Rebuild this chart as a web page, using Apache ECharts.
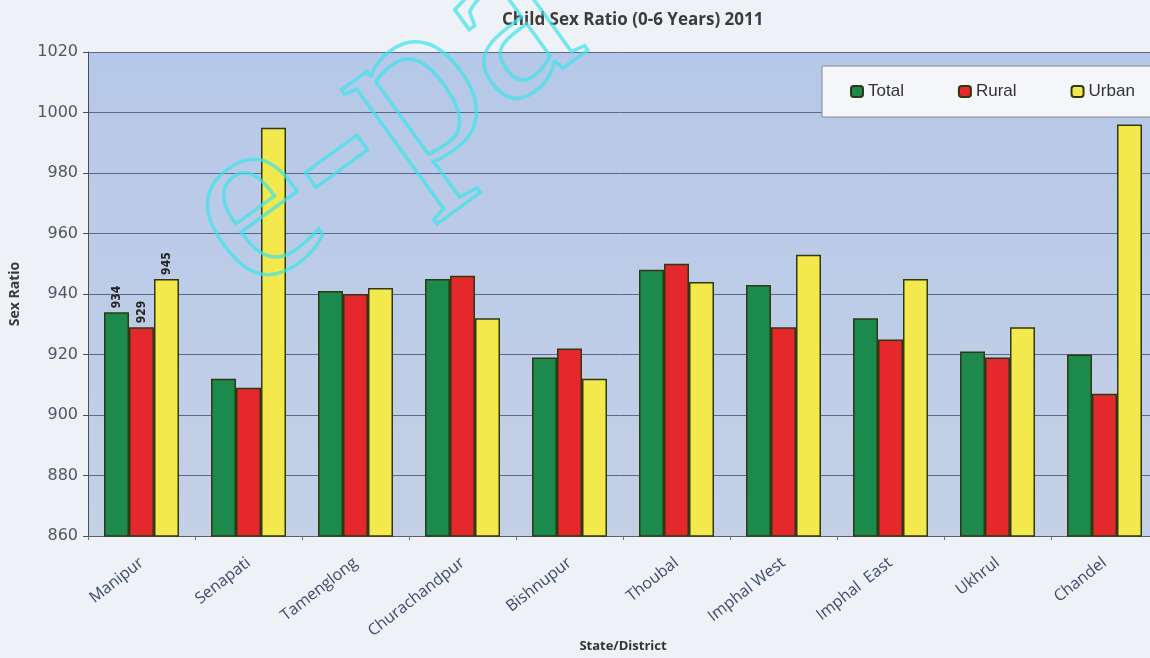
<!DOCTYPE html>
<html>
<head>
<meta charset="utf-8">
<script src="https://cdn.jsdelivr.net/npm/echarts@6/dist/echarts.min.js"></script>
<style>
  html, body { margin: 0; padding: 0; background: #eef1f5; }
  #chart { width: 1150px; height: 658px; }
</style>
</head>
<body>
<div id="chart"></div>
<script>
// ---- data ----
const categories = ['Manipur', 'Senapati', 'Tamenglong', 'Churachandpur', 'Bishnupur',
                    'Thoubal', 'Imphal West', 'Imphal  East', 'Ukhrul', 'Chandel'];
const totalValues = [934, 912, 941, 945, 919, 948, 943, 932, 921, 920];
const ruralValues = [929, 909, 940, 946, 922, 950, 929, 925, 919, 907];
const urbanValues = [945, 995, 942, 932, 912, 944, 953, 945, 929, 996];
const seriesNames = ['Total', 'Rural', 'Urban'];
const yTicks = { min: 860, max: 1020, step: 20 };
const labelledIndex = 0; // Manipur bars carry value labels

const colors = ['#1b8a4c', '#e4282c', '#f4e94c'];

function withLabel(values) {
  return values.map((v, i) => i === labelledIndex ? {
    value: v,
    label: {
      show: true, position: 'top', rotate: 90, align: 'left', verticalAlign: 'middle',
      distance: 4, fontSize: 12, fontWeight: 'bold', color: '#222',
      fontFamily: 'Liberation Sans Narrow, DejaVu Sans Condensed, sans-serif'
    }
  } : v);
}

const chart = echarts.init(document.getElementById('chart'), null, { renderer: 'canvas' });

const barStyle = (c) => ({ color: c, borderColor: '#2f3812', borderWidth: 1.5 });

chart.setOption({
  backgroundColor: '#eef1f5',
  animation: false,
  title: {
    text: 'Child Sex Ratio (0-6 Years) 2011',
    left: 497, top: 7,
    textStyle: { fontFamily: 'Open Sans', fontWeight: 'bold', fontSize: 17, color: '#3c3c3c' }
  },
  legend: {
    data: seriesNames,
    orient: 'horizontal',
    left: 822, top: 66, width: 400,
    padding: [17, 30, 17, 28],
    itemGap: 54, itemWidth: 12, itemHeight: 11,
    backgroundColor: '#f4f6fa', borderColor: '#858a96', borderWidth: 1,
    textStyle: { fontFamily: 'Liberation Sans', fontSize: 17, color: '#333' }
  },
  grid: {
    left: 88, top: 52, width: 1070, height: 484,
    outerBoundsMode: 'none',
    containLabel: false,
    show: true, borderWidth: 0,
    backgroundColor: {
      type: 'linear', x: 0, y: 0, x2: 0, y2: 1,
      colorStops: [{ offset: 0, color: '#b6c8e8' }, { offset: 1, color: '#c4d0e6' }]
    }
  },
  xAxis: {
    type: 'category',
    data: categories,
    name: 'State/District',
    nameLocation: 'middle',
    nameGap: 104,
    nameMoveOverlap: false,
    nameTextStyle: { fontFamily: 'Open Sans', fontWeight: 'bold', fontSize: 13, color: '#333' },
    axisLine: { lineStyle: { color: '#5a5f6a', width: 1 } },
    axisTick: { show: true, length: 4, lineStyle: { color: '#6a6f7a' } },
    axisLabel: {
      rotate: 38, margin: 25, interval: 0,
      fontFamily: 'Open Sans', fontSize: 16, color: '#3e4c6e'
    }
  },
  yAxis: {
    type: 'value',
    min: yTicks.min, max: yTicks.max, interval: yTicks.step,
    name: 'Sex Ratio',
    nameLocation: 'middle',
    nameGap: 66,
    nameMoveOverlap: false,
    nameTextStyle: { fontFamily: 'Open Sans', fontWeight: 'bold', fontSize: 14, color: '#3a3a3a' },
    axisLine: { show: true, lineStyle: { color: '#4a4f5a', width: 1 } },
    axisTick: { show: true, length: 5, lineStyle: { color: '#4a4f5a' } },
    axisLabel: {
      margin: 10, fontFamily: 'DejaVu Sans', fontSize: 16, color: '#4e5668',
      formatter: (v) => String(v)
    },
    splitLine: { show: true, lineStyle: { color: '#5a6890', width: 1 } }
  },
  series: [
    { name: seriesNames[0], type: 'bar', data: withLabel(totalValues), barWidth: 25, barGap: '0%', itemStyle: barStyle(colors[0]) },
    { name: seriesNames[1], type: 'bar', data: withLabel(ruralValues), barWidth: 25, barGap: '0%', itemStyle: barStyle(colors[1]) },
    { name: seriesNames[2], type: 'bar', data: withLabel(urbanValues), barWidth: 25, barGap: '0%', itemStyle: barStyle(colors[2]) }
  ],
  graphic: [{
    type: 'text',
    z: 100,
    x: 382, y: 120,
    rotation: 36 * Math.PI / 180,
    silent: true,
    style: {
      text: 'e-pa',
      textAlign: 'center', textVerticalAlign: 'middle',
      font: '245px "Liberation Serif", serif',
      fill: 'rgba(0,0,0,0)',
      stroke: 'rgba(60,228,232,0.7)',
      lineWidth: 3.5
    }
  }]
});
</script>
</body>
</html>
